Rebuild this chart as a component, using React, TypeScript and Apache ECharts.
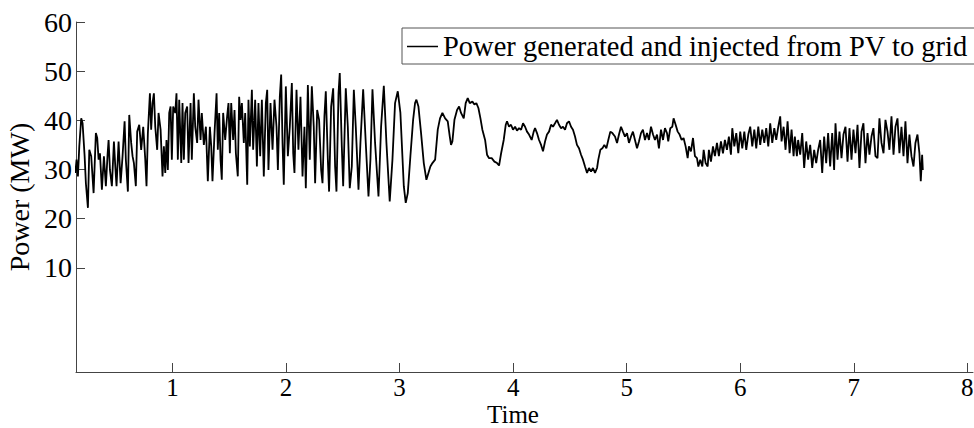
import React, { useEffect, useRef } from "react";
import * as echarts from "echarts";

// Time ticks and power ticks
const xTicks: number[] = [1, 2, 3, 4, 5, 6, 7, 8];
const yTicks: number[] = [10, 20, 30, 40, 50, 60];

const seriesName = "Power generated and injected from PV to grid";

// [time, power (MW)], in segments
const segA: [number, number][] = [
  [0.144, 29.3], [0.155, 32.0], [0.167, 28.6], [0.179, 34.7], [0.196, 40.4], [0.208, 39.4],
  [0.226, 32.7], [0.237, 27.2], [0.255, 22.2], [0.267, 34.0], [0.284, 32.7], [0.305, 25.2],
  [0.325, 37.4], [0.337, 36.4], [0.349, 32.0], [0.361, 33.3], [0.378, 25.9], [0.396, 32.7],
  [0.413, 26.6], [0.428, 33.0], [0.437, 36.0], [0.449, 29.9], [0.466, 26.6], [0.484, 35.7],
  [0.496, 30.6], [0.507, 26.6], [0.525, 35.7], [0.543, 27.2], [0.560, 32.7], [0.578, 39.8],
  [0.589, 32.0], [0.607, 25.5], [0.619, 41.1], [0.636, 35.4], [0.648, 32.7], [0.660, 31.3],
  [0.677, 26.6], [0.689, 37.7], [0.707, 39.1], [0.724, 34.0], [0.742, 38.7], [0.760, 32.0],
  [0.771, 26.6], [0.783, 37.4], [0.801, 45.5], [0.812, 38.1], [0.824, 43.5], [0.836, 45.5],
  [0.848, 38.7], [0.865, 34.0], [0.877, 41.5], [0.895, 38.1], [0.912, 28.6], [0.924, 34.7],
  [0.936, 29.3], [0.947, 36.0], [0.959, 29.9], [0.971, 41.5], [0.983, 42.8], [0.994, 32.0],
  [1.006, 42.8], [1.024, 41.5], [1.035, 45.5], [1.047, 32.0], [1.059, 44.2], [1.077, 31.3],
  [1.088, 43.5], [1.100, 32.0], [1.112, 41.5], [1.129, 42.8], [1.141, 31.3], [1.159, 43.5],
  [1.170, 32.0], [1.188, 45.5], [1.200, 38.7], [1.217, 35.4], [1.229, 44.2], [1.247, 36.0],
  [1.258, 41.5], [1.276, 35.0], [1.294, 38.7], [1.311, 27.6], [1.329, 38.7], [1.341, 34.7],
  [1.352, 27.6], [1.370, 37.4], [1.388, 45.5], [1.399, 34.0], [1.411, 41.5], [1.423, 32.0],
  [1.434, 27.9], [1.446, 41.5], [1.464, 36.0], [1.481, 40.8], [1.493, 43.5], [1.505, 33.3],
  [1.517, 43.5], [1.534, 36.0], [1.546, 42.1], [1.558, 33.3], [1.575, 28.6], [1.587, 44.8],
  [1.599, 40.1], [1.611, 43.5], [1.628, 35.4], [1.640, 41.5], [1.658, 26.9], [1.669, 44.2],
  [1.681, 34.7], [1.699, 46.2], [1.710, 34.0], [1.728, 44.2],
];

const segB: [number, number][] = [
  [1.743, 30.6], [1.757, 43.5], [1.772, 32.7], [1.787, 44.2], [1.804, 28.6], [1.822, 43.5],
  [1.834, 46.2], [1.845, 29.9], [1.863, 43.5], [1.881, 34.0], [1.898, 44.2], [1.916, 38.7],
  [1.928, 29.9], [1.945, 44.8], [1.957, 49.3], [1.969, 35.4], [1.980, 26.9], [1.998, 46.9],
  [2.016, 32.7], [2.033, 38.7], [2.051, 47.6], [2.063, 33.3], [2.074, 29.3], [2.092, 46.2],
  [2.109, 34.0], [2.127, 44.8], [2.145, 28.6], [2.162, 38.7], [2.174, 26.2], [2.192, 47.2],
  [2.209, 32.0], [2.227, 46.9], [2.244, 38.7], [2.256, 27.2], [2.274, 42.1], [2.291, 40.1],
  [2.309, 29.9], [2.321, 27.2], [2.338, 40.8], [2.350, 45.9], [2.368, 32.0], [2.379, 25.5],
  [2.397, 42.8], [2.415, 46.5], [2.432, 30.6], [2.444, 25.5], [2.462, 45.5], [2.473, 49.6],
  [2.491, 34.7], [2.503, 26.6], [2.526, 46.5], [2.544, 38.7], [2.561, 26.2], [2.579, 30.6],
  [2.597, 46.2], [2.614, 38.7], [2.638, 25.9], [2.655, 35.4], [2.679, 46.3], [2.702, 35.4],
  [2.726, 24.5], [2.743, 32.0], [2.761, 46.3], [2.784, 35.4], [2.814, 24.5], [2.837, 38.7],
  [2.861, 47.0], [2.884, 35.4], [2.913, 23.5], [2.937, 32.0], [2.960, 43.5], [2.984, 45.9],
  [3.007, 41.5], [3.037, 26.6], [3.054, 23.2], [3.072, 25.2], [3.095, 32.7], [3.119, 40.1],
  [3.136, 43.5], [3.148, 44.2], [3.166, 42.8], [3.189, 37.4], [3.213, 31.3], [3.236, 27.9],
  [3.254, 29.3], [3.271, 30.6], [3.289, 31.3],
];

const segC: [number, number][] = [
  [3.313, 32.0], [3.336, 38.1], [3.356, 40.4], [3.377, 41.5], [3.401, 40.4], [3.424, 39.8],
  [3.442, 36.7], [3.453, 35.0], [3.465, 35.7], [3.483, 40.1], [3.506, 42.1], [3.524, 42.8],
  [3.541, 41.5], [3.565, 40.4], [3.582, 43.5], [3.600, 44.5], [3.618, 43.5], [3.641, 43.8],
  [3.659, 43.2], [3.676, 43.5], [3.694, 42.5], [3.712, 40.4], [3.729, 38.1], [3.753, 36.0],
  [3.770, 33.0], [3.788, 32.3], [3.811, 32.3], [3.835, 31.6], [3.858, 31.3], [3.876, 30.8],
  [3.894, 33.3], [3.917, 36.0], [3.935, 39.1], [3.946, 39.8], [3.964, 38.7], [3.981, 39.1],
  [3.999, 38.1], [4.017, 38.7], [4.034, 37.9], [4.052, 38.4], [4.070, 38.1], [4.087, 39.4],
  [4.105, 38.7], [4.122, 37.7], [4.140, 37.1], [4.163, 36.0], [4.181, 37.7], [4.193, 38.4],
  [4.210, 37.4], [4.228, 36.0], [4.246, 35.0], [4.263, 33.7], [4.281, 35.7], [4.298, 37.1],
  [4.316, 37.7], [4.334, 39.1], [4.351, 38.7], [4.369, 39.4], [4.386, 40.1], [4.404, 39.1],
  [4.422, 38.4], [4.439, 38.7], [4.457, 38.1], [4.474, 39.4], [4.492, 39.8], [4.510, 38.7],
  [4.527, 38.1], [4.545, 36.7], [4.562, 35.0], [4.580, 34.3], [4.598, 33.0], [4.615, 32.0],
  [4.633, 30.6], [4.651, 29.3], [4.668, 30.3], [4.686, 29.6], [4.703, 30.3], [4.721, 29.3],
  [4.739, 30.3], [4.750, 32.0], [4.768, 34.0], [4.786, 34.3], [4.803, 35.0], [4.821, 34.3],
  [4.838, 36.0], [4.856, 37.7], [4.874, 37.4],
];

const segD: [number, number][] = [
  [4.897, 36.7], [4.915, 35.4], [4.932, 37.1], [4.950, 38.7], [4.967, 37.7], [4.985, 36.7],
  [5.003, 37.4], [5.020, 35.4], [5.038, 36.7], [5.055, 37.7], [5.073, 36.0], [5.091, 34.3],
  [5.108, 35.7], [5.126, 37.4], [5.143, 38.1], [5.161, 36.0], [5.179, 37.4], [5.196, 36.0],
  [5.214, 38.7], [5.232, 37.1], [5.249, 36.0], [5.267, 37.1], [5.284, 34.3], [5.302, 38.1],
  [5.320, 36.0], [5.337, 38.4], [5.355, 37.4], [5.366, 35.7], [5.384, 38.4], [5.402, 38.7],
  [5.413, 40.4], [5.431, 39.1], [5.449, 37.7], [5.466, 37.1], [5.484, 36.0], [5.501, 36.4],
  [5.519, 34.7], [5.537, 32.3], [5.548, 34.7], [5.566, 33.7], [5.584, 36.4], [5.601, 32.7],
  [5.619, 32.3], [5.631, 30.6], [5.648, 32.0], [5.666, 30.6], [5.678, 34.0], [5.695, 31.3],
  [5.713, 30.6], [5.724, 34.0], [5.742, 31.6], [5.760, 34.7], [5.777, 32.7], [5.795, 35.4],
  [5.812, 32.7], [5.830, 35.7], [5.848, 33.3], [5.865, 36.0], [5.883, 34.0], [5.900, 36.7],
  [5.918, 33.0], [5.930, 38.4], [5.948, 34.7], [5.965, 37.4], [5.983, 33.3], [6.000, 37.7],
  [6.018, 34.3], [6.036, 37.7], [6.053, 34.0], [6.071, 37.1], [6.088, 38.7], [6.106, 34.7],
  [6.124, 38.1], [6.141, 34.3], [6.159, 38.7], [6.176, 35.0], [6.194, 38.1], [6.212, 35.4],
  [6.229, 38.4], [6.247, 34.7], [6.264, 39.4], [6.282, 35.4], [6.300, 38.4], [6.317, 36.0],
  [6.335, 38.7], [6.352, 40.8], [6.364, 35.7], [6.382, 38.7], [6.399, 34.0], [6.417, 39.8],
  [6.435, 33.3], [6.452, 38.1], [6.470, 32.7],
];

const segE: [number, number][] = [
  [6.481, 36.7], [6.499, 32.7], [6.510, 36.0], [6.528, 33.0], [6.546, 37.4], [6.563, 30.3],
  [6.581, 35.7], [6.598, 32.0], [6.616, 35.0], [6.634, 30.3], [6.651, 34.0], [6.669, 31.3],
  [6.686, 34.0], [6.704, 36.0], [6.722, 29.3], [6.739, 36.7], [6.757, 31.3], [6.774, 37.4],
  [6.792, 30.6], [6.810, 37.4], [6.827, 29.9], [6.839, 39.4], [6.857, 32.0], [6.874, 37.7],
  [6.892, 32.3], [6.909, 37.1], [6.927, 38.7], [6.945, 31.6], [6.962, 38.4], [6.980, 32.0],
  [6.997, 38.1], [7.015, 33.3], [7.033, 39.1], [7.050, 30.3], [7.068, 37.7], [7.085, 39.4],
  [7.103, 31.3], [7.121, 37.4], [7.138, 33.0], [7.156, 36.7], [7.173, 38.4], [7.191, 32.7],
  [7.209, 32.3], [7.226, 40.4], [7.244, 35.4], [7.262, 33.3], [7.279, 40.1], [7.297, 37.7],
  [7.314, 34.0], [7.332, 40.8], [7.350, 33.0], [7.367, 38.7], [7.385, 40.4], [7.402, 33.3],
  [7.420, 38.7], [7.438, 32.7], [7.455, 39.8], [7.473, 31.3], [7.490, 37.1], [7.508, 32.7],
  [7.526, 30.6], [7.543, 35.4], [7.561, 37.1], [7.578, 33.3], [7.590, 27.6], [7.602, 33.0],
  [7.608, 29.9],
];

const powerData: [number, number][] = [...segA, ...segB, ...segC, ...segD, ...segE];

const FONT = '"Liberation Serif", "Times New Roman", "DejaVu Serif", serif';
const AXIS_COLOR = "#444";

export default function App() {
  const ref = useRef<HTMLDivElement | null>(null);

  useEffect(() => {
    if (!ref.current) return;
    const chart = echarts.init(ref.current, undefined, { renderer: "svg" });
    chart.setOption({
      animation: false,
      backgroundColor: "#ffffff",
      textStyle: { fontFamily: FONT },
      grid: { left: 76, right: 1, top: 22, bottom: 56, containLabel: false, outerBoundsMode: "none" },
      legend: {
        show: true,
        data: [{ name: seriesName, icon: "rect" }],
        left: 402,
        top: 28,
        orient: "horizontal",
        itemWidth: 31,
        itemHeight: 1.5,
        padding: [4, 8, 3, 5],
        borderColor: "#555",
        borderWidth: 1,
        backgroundColor: "#fff",
        selectedMode: false,
        textStyle: { fontFamily: FONT, fontSize: 28.5, color: "#000" },
      },
      xAxis: {
        type: "value",
        min: 0.15,
        max: 8.05,
        axisLine: { show: true, onZero: false, lineStyle: { color: AXIS_COLOR, width: 1 } },
        axisTick: { show: true, inside: true, length: 9, customValues: xTicks, lineStyle: { color: AXIS_COLOR } },
        axisLabel: {
          show: true,
          customValues: xTicks,
          margin: 15.5,
          verticalAlign: "middle",
          fontFamily: FONT,
          fontSize: 25,
          color: "#000",
          formatter: (v: number) => String(v),
        },
        splitLine: { show: false },
      },
      yAxis: {
        type: "value",
        min: -11.2,
        max: 60,
        name: "Power (MW)",
        nameLocation: "middle",
        nameGap: 29,
        nameTextStyle: { fontFamily: FONT, fontSize: 28, color: "#000" },
        axisLine: { show: true, onZero: false, lineStyle: { color: AXIS_COLOR, width: 1 } },
        axisTick: { show: true, inside: true, length: 9, customValues: yTicks, lineStyle: { color: AXIS_COLOR } },
        axisLabel: {
          show: true,
          customValues: yTicks,
          margin: 4,
          fontFamily: FONT,
          fontSize: 28,
          color: "#000",
          formatter: (v: number) => String(v),
        },
        splitLine: { show: false },
      },
      graphic: [
        {
          type: "text",
          x: 513,
          y: 414.2,
          style: {
            text: "Time",
            fontFamily: FONT,
            fontSize: 25,
            fill: "#000",
            align: "center",
            verticalAlign: "middle",
          },
        },
      ],
      series: [
        {
          name: seriesName,
          type: "line",
          data: powerData,
          showSymbol: false,
          symbol: "none",
          clip: true,
          lineStyle: { color: "#000", width: 1.8 },
          itemStyle: { color: "#000" },
        },
      ],
    });
    return () => chart.dispose();
  }, []);

  return (
    <div
      ref={ref}
      style={{ position: "fixed", left: 0, top: 0, width: 974, height: 428, background: "#fff" }}
    />
  );
}
